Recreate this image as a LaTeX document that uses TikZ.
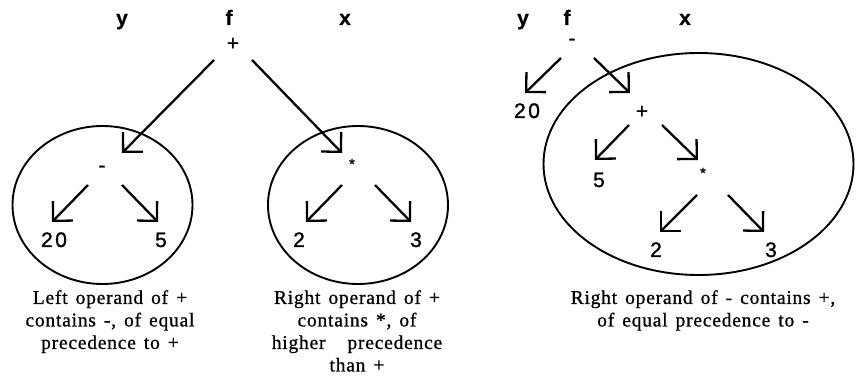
\documentclass[tikz,border=0pt]{standalone}
\usepackage{fontspec}
\setmainfont{Liberation Serif}
\newfontfamily\lblfont[FakeBold=1.2]{Liberation Sans}
\newfontfamily\varfont[FakeBold=0.6]{Liberation Sans Bold}
\newfontfamily\numfont[LetterSpace=12,FakeBold=1.2]{Liberation Sans}
\newfontfamily\capfont[LetterSpace=4,FakeBold=0.8]{Liberation Serif}
\newcommand\mycapstyle{\capfont\fontsize{19.5}{22.5}\selectfont\spaceskip=8pt plus 2pt\relax}
\usetikzlibrary{arrows.meta}
\begin{document}
\begin{tikzpicture}[x=1pt,y=-1pt,
  varlbl/.style={font=\varfont\fontsize{21}{24}\selectfont, anchor=base, inner sep=0},
  numlbl/.style={font=\numfont\fontsize{21}{24}\selectfont, anchor=base, inner sep=0},
  oplbl/.style={font=\lblfont\fontsize{21}{24}\selectfont, inner sep=0},
  starlbl/.style={font=\lblfont\fontsize{15}{18}\selectfont, inner sep=0},
  captxt/.style={font=\mycapstyle, align=center, anchor=north, inner sep=0},
  arr/.style={line width=2.3pt, -{Straight Barb[length=14pt,width=28pt]}},
  grp/.style={line width=1.9pt}]
\useasboundingbox (0,0) rectangle (863,377);

% ---- left picture ----
\node[varlbl] (y1) at (122,25) {y};
\node[varlbl] (f1) at (229,25) {f};
\node[varlbl] (x1) at (345,25) {x};
\node[oplbl] (plus1) at (233,44) {+};
\node[oplbl] (minus1) at (102,169) {-};
\node[starlbl] (star1) at (352,164) {*};
\node[numlbl] (n20a) at (54,247) {20};
\node[numlbl] (n5a) at (161,247) {5};
\node[numlbl] (n2a) at (299,247) {2};
\node[numlbl] (n3a) at (416,247) {3};

\coordinate (a1s) at (214,60);  \coordinate (a1e) at (122,153);
\coordinate (a2s) at (252,60);  \coordinate (a2e) at (342,153);
\coordinate (a3s) at (88,185);  \coordinate (a3e) at (52,222);
\coordinate (a4s) at (122,185); \coordinate (a4e) at (158,222);
\coordinate (a5s) at (342,185); \coordinate (a5e) at (306,222);
\coordinate (a6s) at (375,185); \coordinate (a6e) at (411,222);
\draw[arr] (a1s) -- (a1e);
\draw[arr] (a2s) -- (a2e);
\draw[arr] (a3s) -- (a3e);
\draw[arr] (a4s) -- (a4e);
\draw[arr] (a5s) -- (a5e);
\draw[arr] (a6s) -- (a6e);

\draw[grp] (102.5,205) ellipse[x radius=90, y radius=79];
\draw[grp] (358,205) ellipse[x radius=90, y radius=79];

\node[captxt] (capL) at (110,290) {Left operand of +\\contains -, of equal\\precedence to +};
\node[captxt] (capR) at (357,290) {Right operand of +\\contains *, of\\higher\hspace{14pt} precedence\\than +};

% ---- right picture ----
\node[varlbl] (y2) at (523,25) {y};
\node[varlbl] (f2) at (567,25) {f};
\node[varlbl] (x2) at (685,25) {x};
\node[oplbl] (minus2) at (572,42) {-};
\node[oplbl] (plus2) at (642,112) {+};
\node[starlbl] (star2) at (703,173) {*};
\node[numlbl] (n20b) at (527,118) {20};
\node[numlbl] (n5b) at (599,187) {5};
\node[numlbl] (n2b) at (656,257) {2};
\node[numlbl] (n3b) at (771,257) {3};

\coordinate (b1s) at (561,58);  \coordinate (b1e) at (525,93);
\coordinate (b2s) at (594,58);  \coordinate (b2e) at (630,93);
\coordinate (b3s) at (629,125); \coordinate (b3e) at (595,160);
\coordinate (b4s) at (662,125); \coordinate (b4e) at (698,160);
\coordinate (b5s) at (697,195); \coordinate (b5e) at (660,232);
\coordinate (b6s) at (728,195); \coordinate (b6e) at (764,232);
\draw[arr] (b1s) -- (b1e);
\draw[arr] (b2s) -- (b2e);
\draw[arr] (b3s) -- (b3e);
\draw[arr] (b4s) -- (b4e);
\draw[arr] (b5s) -- (b5e);
\draw[arr] (b6s) -- (b6e);

\draw[grp] (698.5,164) ellipse[x radius=155, y radius=111];

\node[captxt] (capB) at (703,290) {Right operand of - contains +,\\of equal precedence to -};
\end{tikzpicture}
\end{document}
